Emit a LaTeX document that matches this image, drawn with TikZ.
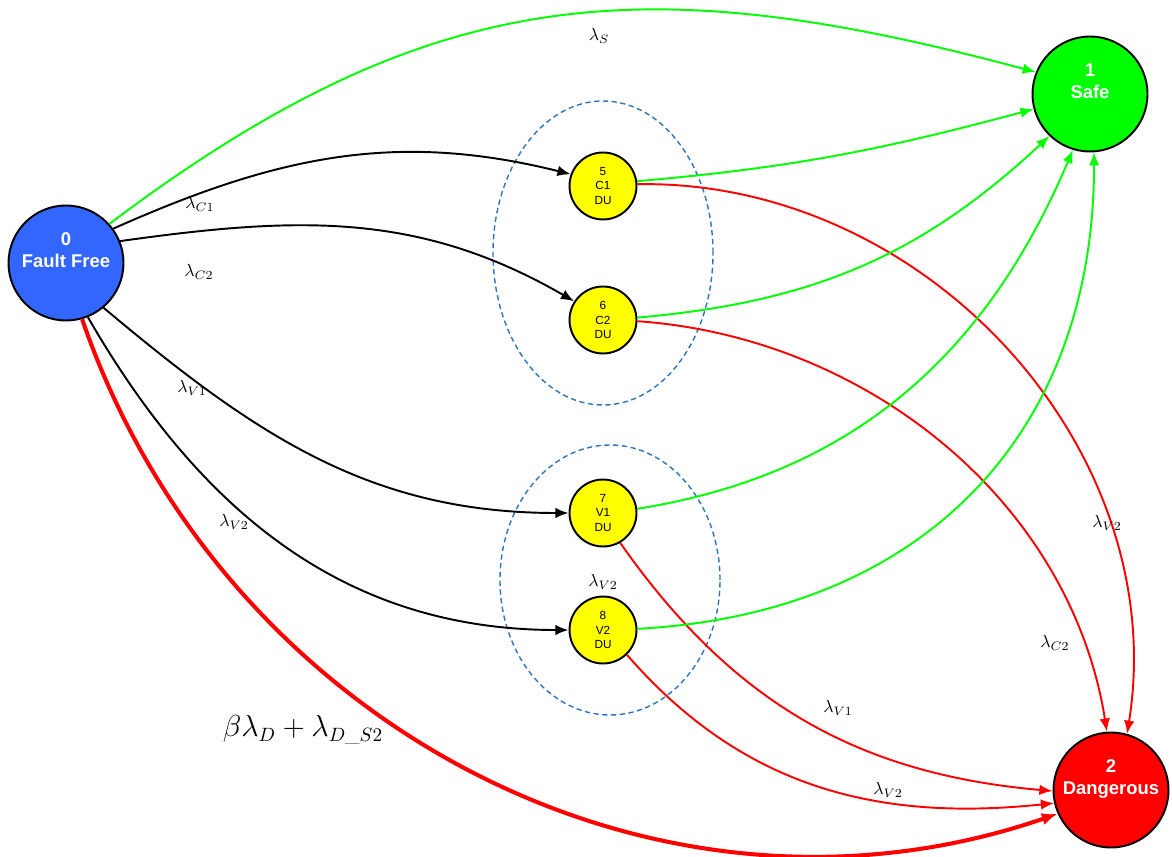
\documentclass[tikz,border=0pt]{standalone}
\usepackage{amsmath}
\usepackage{fontspec}
\newfontfamily\arialfont{Liberation Sans}
\usetikzlibrary{arrows.meta}
\definecolor{ffblue}{RGB}{51,102,255}
\definecolor{safegreen}{RGB}{0,255,0}
\definecolor{dangred}{RGB}{255,0,0}
\definecolor{duyellow}{RGB}{255,255,0}
\definecolor{groupblue}{RGB}{46,117,182}
\newcommand{\liftstate}[1]{\raisebox{6pt}[\height][\depth]{\begin{tabular}{@{}c@{}}#1\end{tabular}}}

\begin{document}
\begin{tikzpicture}[
    x=0.02cm, y=0.02cm,
    state/.style={circle, draw=black, line width=1.1pt, minimum size=2.3cm, inner sep=0pt,
        text=white, font=\arialfont\bfseries\fontsize{10.5}{12.5}\selectfont},
    du/.style={circle, draw=black, line width=1.1pt, fill=duyellow, minimum size=1.34cm,
        inner sep=0pt, align=center, font=\arialfont\fontsize{6.7}{8}\selectfont},
    rate/.style={inner sep=1pt},
    trans/.style={line width=1.1pt, -{Latex[length=7.5pt,width=6pt]}},
    group/.style={draw=groupblue, line width=0.8pt, dash pattern=on 3pt off 2pt}
]
\useasboundingbox (0,0) rectangle (1172,856);

% groups of dangerous undetected states
\draw[group] (603,603) ellipse [x radius=110, y radius=152];
\draw[group] (610,276) ellipse [x radius=110, y radius=135];

% states
\node[state, fill=ffblue] (ff) at (66,593) {\liftstate{0\\Fault Free}};
\node[state, fill=safegreen] (safe) at (1090,762) {\liftstate{1\\Safe}};
\node[state, fill=dangred] (dang) at (1111,66) {\liftstate{2\\Dangerous}};
\node[du] (c1) at (603,670) {5\\C1\\DU};
\node[du] (c2) at (603,536) {6\\C2\\DU};
\node[du] (v1) at (603,343) {7\\V1\\DU};
\node[du] (v2) at (603,226) {8\\V2\\DU};

% transitions from the fault free state
\draw[trans, safegreen] (ff.42) to[out=37, in=165, looseness=1.1] (safe.158);
\draw[trans] (ff.36) to[out=24, in=166] (c1.160);
\draw[trans] (ff.22) to[out=8, in=150] (c2.147);
\draw[trans] (ff.-50) to[out=-40, in=180] (v1.west);
\draw[trans] (ff.-68) to[out=-60, in=180] (v2.west);
\draw[dangred, line width=2.3pt, -{Latex[length=9pt,width=7pt]}]
    (ff.-74) to[out=-71, in=-161] (dang.-156);

% transitions from the DU states
\draw[trans, safegreen] (c1.8) to[out=5, in=195] (safe.195);
\draw[trans, dangred] (c1.3) to[out=1, in=81] (dang.74);
\draw[trans, safegreen] (c2.4) to[out=5, in=223] (safe.226);
\draw[trans, dangred] (c2.-2) to[out=-4, in=99, looseness=0.95] (dang.94);
\draw[trans, safegreen] (v1.7) to[out=9, in=247] (safe.253);
\draw[trans, dangred] (v1.-60) to[out=-55, in=175] (dang.181);
\draw[trans, safegreen] (v2.2) to[out=3, in=270, looseness=1.1] (safe.-86);
\draw[trans, dangred] (v2.-46) to[out=-49, in=186] (dang.193);

% rates
\node[rate] (lS) at (599,820) {$\lambda_S$};
\node[rate] (lC1) at (200,652) {$\lambda_{C1}$};
\node[rate] (lC2) at (199,584) {$\lambda_{C2}$};
\node[rate] (lV1) at (192,468) {$\lambda_{V1}$};
\node[rate] (lV2) at (234,334) {$\lambda_{V2}$};
\node[rate] (lV2m) at (603,274) {$\lambda_{V2}$};
\node[rate, font=\fontsize{16}{19}\selectfont] (lbeta) at (303,126) {$\beta\lambda_D+\lambda_{D\_S2}$};
\node[rate] (lV2r) at (1107,333) {$\lambda_{V2}$};
\node[rate] (lC2r) at (1055,213) {$\lambda_{C2}$};
\node[rate] (lV1r) at (838,148) {$\lambda_{V1}$};
\node[rate] (lV2b) at (888,66) {$\lambda_{V2}$};
\end{tikzpicture}
\end{document}
